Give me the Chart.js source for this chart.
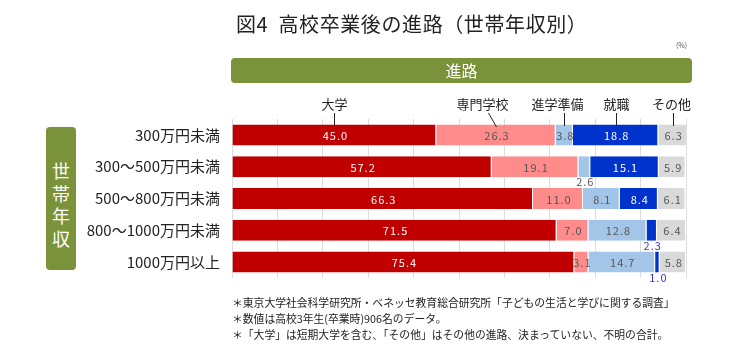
<!DOCTYPE html>
<html lang="ja">
<head>
<meta charset="utf-8">
<script src="https://cdn.jsdelivr.net/npm/chart.js@4/dist/chart.umd.min.js"></script>
<style>
  html, body { margin:0; padding:0; background:#fff; }
  body { width:745px; height:357px; position:relative; overflow:hidden; font-family:"Noto Sans CJK JP","Noto Sans",sans-serif; color:#222; }
  #wrap { position:absolute; left:0; top:0; width:745px; height:357px; }
  .abs { position:absolute; white-space:nowrap; }
  #title { left:236px; top:9px; font-size:20px; letter-spacing:0.6px; line-height:30px; color:#222; }
  #unit { left:676px; top:40px; font-size:7px; color:#555; }
  #head { left:231px; top:58px; width:461px; height:25px; background:#7a923a; border-radius:4px; color:#fff; font-size:16px; line-height:25px; text-align:center; }
  #side { left:46px; top:127px; width:30px; height:143px; background:#7a923a; border-radius:4px; color:#fff; font-size:18px; line-height:22.5px; text-align:center; padding-top:32px; box-sizing:border-box; white-space:normal; }
  #notes { left:232px; top:294px; font-size:10.8px; line-height:16px; color:#222; }
</style>
</head>
<body>
<div id="wrap"><canvas id="c" width="745" height="357"></canvas></div>
<div class="abs" id="title">図4&nbsp; 高校卒業後の進路（世帯年収別）</div>
<div class="abs" id="unit">(%)</div>
<div class="abs" id="head">進路</div>
<div class="abs" id="side">世<br>帯<br>年<br>収</div>
<div class="abs" id="notes">＊東京大学社会科学研究所・ベネッセ教育総合研究所「子どもの生活と学びに関する調査」<br>＊数値は高校3年生(卒業時)906名のデータ。<br>＊「大学」は短期大学を含む、「その他」はその他の進路、決まっていない、不明の合計。</div>
<script>
const categories = ["300万円未満", "300～500万円未満", "500～800万円未満", "800～1000万円未満", "1000万円以上"];
const seriesNames = ["大学", "専門学校", "進学準備", "就職", "その他"];
const daigaku   = [45.0, 57.2, 66.3, 71.5, 75.4];
const senmon    = [26.3, 19.1, 11.0, 7.0, 3.1];
const junbi     = [3.8, 2.6, 8.1, 12.8, 14.7];
const shushoku  = [18.8, 15.1, 8.4, 2.3, 1.0];
const sonota    = [6.3, 5.9, 6.1, 6.4, 5.8];
const seriesValues = [daigaku, senmon, junbi, shushoku, sonota];
const colors = ["#c00000", "#ff8b8b", "#a3c5e8", "#0033cc", "#d9d9d9"];
const labelColors = ["#ffffff", "#555555", "#555555", "#ffffff", "#555555"];
// labels placed below the bar: [series, category, color]
const belowLabels = [[2, 1, "#555555"], [3, 3, "#3333dd"], [3, 4, "#3333dd"]];
// legend text center offsets (px) relative to leader-line position
const legendTextOffset = [0, -14, -7, 0, -2];

const FONT = '"Noto Sans CJK JP","Noto Sans",sans-serif';

const labelPlugin = {
  id: 'labels',
  afterDatasetsDraw(chart) {
    const ctx = chart.ctx;
    ctx.save();
    ctx.textAlign = 'center';
    ctx.textBaseline = 'middle';
    ctx.font = '11px ' + FONT;
    try { ctx.letterSpacing = '1px'; } catch(e) {}
    chart.data.datasets.forEach((ds, di) => {
      const meta = chart.getDatasetMeta(di);
      meta.data.forEach((el, ci) => {
        const below = belowLabels.find(b => b[0] === di && b[1] === ci);
        const cx = (el.x + el.base) / 2;
        const txt = ds.data[ci].toFixed(1);
        if (below) {
          ctx.fillStyle = below[2];
          ctx.fillText(txt, cx + 1, el.y + el.height / 2 + 5);
        } else {
          ctx.fillStyle = labelColors[di];
          ctx.fillText(txt, cx + 1, el.y + 1);
        }
      });
    });
    // legend labels with leader lines
    try { ctx.letterSpacing = '0px'; } catch(e) {}
    ctx.font = '13px ' + FONT;
    ctx.fillStyle = '#222';
    ctx.strokeStyle = '#222';
    ctx.lineWidth = 1;
    chart.data.datasets.forEach((ds, di) => {
      const el = chart.getDatasetMeta(di).data[0];
      const cx = Math.round((el.x + el.base) / 2) + 0.5;
      const tx = cx + legendTextOffset[di];
      ctx.fillText(ds.label, tx, 104);
      ctx.beginPath();
      if (di === 1) {
        ctx.moveTo(cx - 8, 113);
        ctx.lineTo(cx, 127);
      } else {
        ctx.moveTo(cx, 113);
        ctx.lineTo(cx, 126);
      }
      ctx.stroke();
    });
    ctx.restore();
  }
};

new Chart(document.getElementById('c'), {
  type: 'bar',
  data: {
    labels: categories,
    datasets: seriesNames.map((n, i) => ({
      label: n,
      data: seriesValues[i],
      backgroundColor: colors[i],
      borderColor: '#ffffff',
      borderWidth: {left: 0, right: 1, top: 0, bottom: 0},
      borderSkipped: 'start',
      categoryPercentage: 1,
      barPercentage: 0.66
    }))
  },
  options: {
    indexAxis: 'y',
    responsive: false,
    animation: false,
    devicePixelRatio: 1,
    layout: { padding: { left: 0, right: 59, top: 119, bottom: 79 } },
    plugins: { legend: { display: false }, tooltip: { enabled: false }, title: { display: false } },
    scales: {
      x: {
        stacked: true, min: 0, max: 100,
        ticks: { display: false, stepSize: 10 },
        grid: { color: '#dddddd', lineWidth: 1, drawTicks: false },
        border: { display: false }
      },
      y: {
        stacked: true,
        afterFit(s) { s.width = 232; },
        ticks: { color: '#222', font: { size: 15, family: FONT }, padding: 4 },
        grid: { display: false },
        border: { display: false }
      }
    }
  },
  plugins: [labelPlugin]
});
</script>
</body>
</html>
